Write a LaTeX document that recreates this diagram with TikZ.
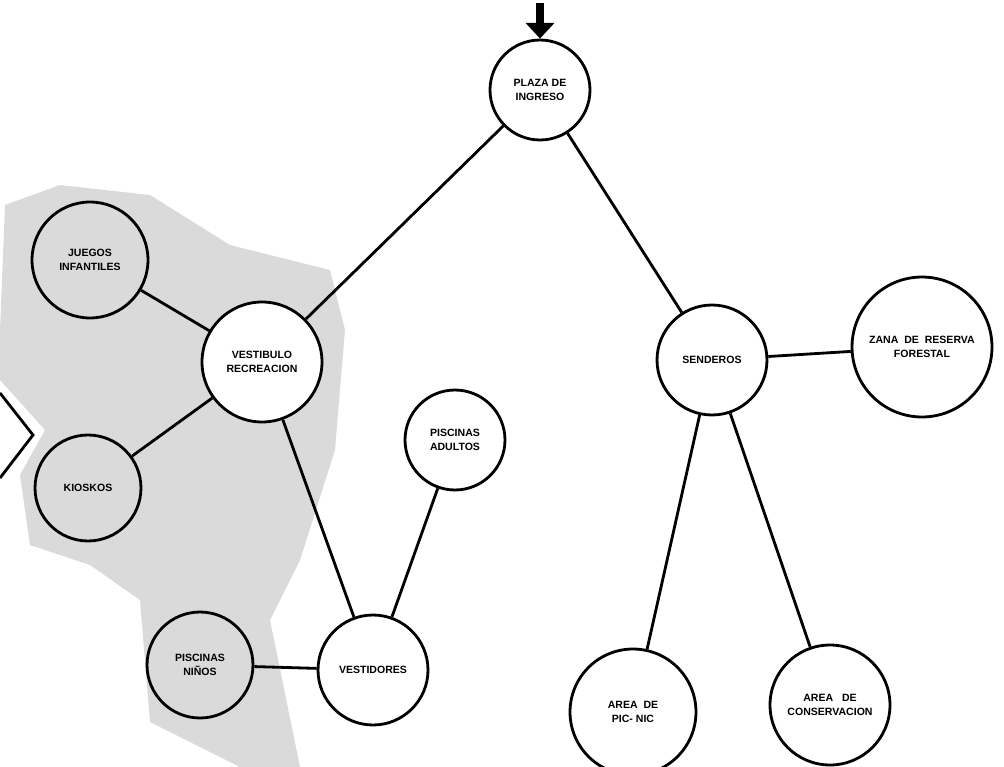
\documentclass[tikz,border=0pt]{standalone}
\usepackage{fontspec}
\setsansfont{Liberation Sans}
\usepackage{tikz}
\usetikzlibrary{arrows.meta, positioning, shapes.geometric}
\definecolor{shadeGray}{HTML}{DADADA}

\begin{document}
\begin{tikzpicture}[
    x=0.02cm, y=-0.02cm,
    zone/.style={draw, circle, line width=1.6pt, inner sep=0pt, align=center, font=\sffamily\bfseries\fontsize{6}{8}\selectfont},
    link/.style={line width=1.6pt},
]
    \useasboundingbox (0,0) rectangle (1004,767);

    % Shaded ground
    \fill[shadeGray] (5,205) -- (60,185) -- (150,195) -- (230,245) -- (330,270) -- (345,330)
        -- (335,450) -- (300,560) -- (270,620) -- (300,767) -- (240,767) -- (150,722)
        -- (140,600) -- (90,565) -- (30,545) -- (20,475) -- (45,430) -- (0,380) -- (0,330) -- cycle;

    % Entrance
    \node[zone, fill=white, minimum size=2cm] (plaza) at (540,90) {PLAZA DE\\INGRESO};
    \coordinate (entry) at (540,3);

    % Recreation side
    \node[zone, fill=shadeGray, minimum size=2.32cm] (juegos) at (90,260) {JUEGOS\\INFANTILES};
    \node[zone, fill=white, minimum size=2.4cm] (vestibulo) at (262,362) {VESTIBULO\\RECREACION};
    \node[zone, fill=shadeGray, minimum size=2.12cm] (kioskos) at (88,488) {KIOSKOS};
    \node[zone, fill=white, minimum size=2cm] (adultos) at (455,440) {PISCINAS\\ADULTOS};
    \node[zone, fill=shadeGray, minimum size=2.12cm] (ninos) at (200,665) {PISCINAS\\NIÑOS};
    \node[zone, fill=white, minimum size=2.2cm] (vestidores) at (373,670) {VESTIDORES};

    % Trails side
    \node[zone, fill=white, minimum size=2.2cm] (senderos) at (712,360) {SENDEROS};
    \node[zone, fill=white, minimum size=2.8cm] (reserva) at (922,347) {ZANA\ \ DE\ \ RESERVA\\FORESTAL};
    \node[zone, fill=white, minimum size=2.52cm] (picnic) at (633,712) {AREA\ \ DE\\PIC- NIC};
    \node[zone, fill=white, minimum size=2.4cm] (conserv) at (830,705) {AREA\ \ \ DE\\CONSERVACION};

    \draw[line width=4.5pt, -{Triangle[length=9pt, width=16pt]}] (entry) -- (plaza);
    \draw[link] (plaza) -- (vestibulo);
    \draw[link] (plaza) -- (senderos);
    \draw[link] (juegos) -- (vestibulo);
    \draw[link] (kioskos) -- (vestibulo);
    \draw[link] (vestibulo) -- (vestidores);
    \draw[link] (adultos) -- (vestidores);
    \draw[link] (ninos) -- (vestidores);
    \draw[link] (senderos) -- (reserva);
    \draw[link] (senderos) -- (picnic);
    \draw[link] (senderos) -- (conserv);

    % Side mark
    \draw[line width=1.6pt] (0,393) -- (33,435) -- (0,478);
\end{tikzpicture}
\end{document}
